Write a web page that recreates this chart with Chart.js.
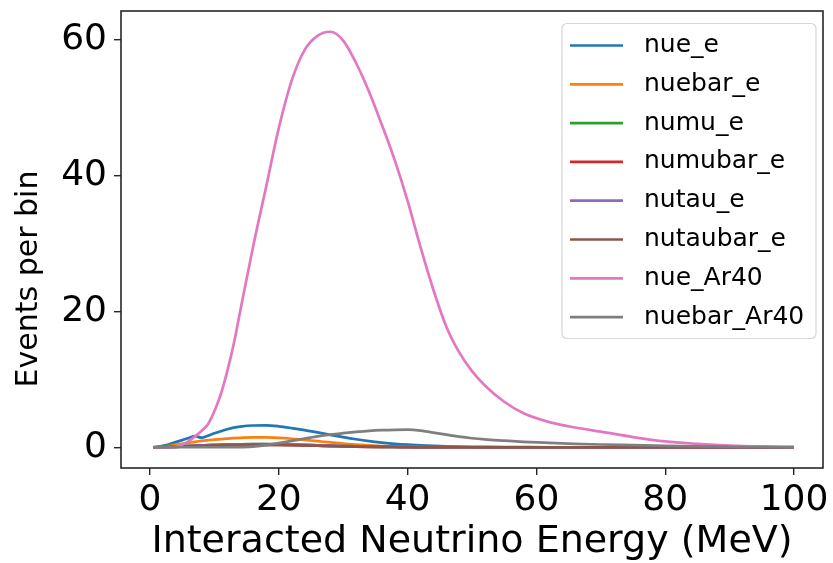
<!DOCTYPE html>
<html>
<head>
<meta charset="utf-8">
<script src="https://cdn.jsdelivr.net/npm/chart.js@4.4.0/dist/chart.umd.min.js"></script>
<style>
  body { margin: 0; background: #fff; }
  #wrap { width: 833px; height: 563px; }
</style>
</head>
<body>
<div id="wrap"><canvas id="myChart" width="833" height="563"></canvas></div>
<script>
// interacted neutrino energy (MeV)
var energies = [0.5, 1, 2, 3, 4, 5, 6, 7, 8, 9, 10, 11, 12, 13, 14,
  16, 18, 20, 22, 24, 26, 28, 30, 32, 34, 36, 38, 40, 42, 44, 46, 48, 50, 52,
  55, 58, 62, 66, 70, 75, 80, 85, 90, 95, 100];

var nue_e = [0, 0.05, 0.2, 0.45, 0.75, 1.05, 1.35, 1.65, 1.4, 1.7, 2.05, 2.35, 2.65, 2.88, 3.03,
  3.2, 3.22, 3.08, 2.82, 2.52, 2.18, 1.82, 1.48, 1.17, 0.9, 0.68, 0.5, 0.37, 0.27, 0.19, 0.13, 0.09, 0.06, 0.04,
  0.02, 0.01, 0, 0, 0, 0, 0, 0, 0, 0, 0];
var nuebar_e = [0, 0.02, 0.1, 0.2, 0.35, 0.5, 0.65, 0.8, 0.93, 1.03, 1.12, 1.2, 1.27, 1.33, 1.38,
  1.45, 1.45, 1.38, 1.25, 1.08, 0.9, 0.71, 0.53, 0.39, 0.27, 0.18, 0.12, 0.08, 0.05, 0.03, 0.02, 0.01, 0, 0,
  0, 0, 0, 0, 0, 0, 0, 0, 0, 0, 0];
var numu_e = [0, 0, 0.02, 0.05, 0.09, 0.14, 0.19, 0.24, 0.28, 0.32, 0.35, 0.38, 0.4, 0.42, 0.44,
  0.46, 0.46, 0.44, 0.4, 0.35, 0.29, 0.23, 0.18, 0.13, 0.09, 0.06, 0.04, 0.03, 0.02, 0.01, 0.01, 0, 0, 0,
  0, 0, 0, 0, 0, 0, 0, 0, 0, 0, 0];
var numubar_e = [0, 0, 0.01, 0.03, 0.06, 0.1, 0.14, 0.18, 0.21, 0.24, 0.27, 0.29, 0.31, 0.33, 0.34,
  0.36, 0.36, 0.34, 0.31, 0.27, 0.22, 0.17, 0.13, 0.09, 0.06, 0.04, 0.03, 0.02, 0.01, 0.01, 0, 0, 0, 0,
  0, 0, 0, 0, 0, 0, 0, 0, 0, 0, 0];
var nutau_e = [0, 0, 0.02, 0.05, 0.09, 0.14, 0.19, 0.24, 0.28, 0.32, 0.35, 0.38, 0.4, 0.42, 0.44,
  0.46, 0.46, 0.44, 0.4, 0.35, 0.29, 0.23, 0.18, 0.13, 0.09, 0.06, 0.04, 0.03, 0.02, 0.01, 0.01, 0, 0, 0,
  0, 0, 0, 0, 0, 0, 0, 0, 0, 0, 0];
var nutaubar_e = [0, 0, 0.01, 0.03, 0.06, 0.1, 0.14, 0.18, 0.21, 0.24, 0.27, 0.29, 0.31, 0.33, 0.34,
  0.36, 0.36, 0.34, 0.31, 0.27, 0.22, 0.17, 0.13, 0.09, 0.06, 0.04, 0.03, 0.02, 0.01, 0.01, 0, 0, 0, 0,
  0, 0, 0, 0, 0, 0, 0, 0, 0, 0, 0];
var nue_Ar40 = [0, 0, 0, 0, 0.05, 0.4, 0.9, 1.6, 2.4, 3.4, 5.3, 7.8, 11.2, 15.2, 20,
  29.5, 38.2, 47, 54, 58.5, 60.6, 61.2, 59.9, 56.6, 52.4, 47.5, 42.3, 36.3, 29.5, 23.2, 17.8, 14, 11.2, 9.1,
  6.7, 5, 3.7, 2.9, 2.3, 1.5, 0.85, 0.5, 0.25, 0.12, 0.05];
var nuebar_Ar40 = [0, 0, 0, 0, 0, 0, 0, 0, 0, 0, 0, 0, 0, 0.01, 0.02,
  0.08, 0.3, 0.6, 0.93, 1.28, 1.6, 1.86, 2.07, 2.26, 2.42, 2.52, 2.57, 2.58, 2.45, 2.15, 1.85, 1.55, 1.32, 1.15,
  0.97, 0.8, 0.64, 0.5, 0.4, 0.3, 0.2, 0.12, 0.07, 0.03, 0.01];

var seriesNames = ['nue_e', 'nuebar_e', 'numu_e', 'numubar_e', 'nutau_e', 'nutaubar_e', 'nue_Ar40', 'nuebar_Ar40'];
var seriesValues = [nue_e, nuebar_e, numu_e, numubar_e, nutau_e, nutaubar_e, nue_Ar40, nuebar_Ar40];
var seriesColors = ['#1f77b4', '#ff7f0e', '#2ca02c', '#d62728', '#9467bd', '#8c564b', '#e377c2', '#7f7f7f'];

var xTicks = [0, 20, 40, 60, 80, 100];
var yTicks = [0, 20, 40, 60];

Chart.defaults.font.family = 'DejaVu Sans';
Chart.defaults.color = '#000';

var datasets = seriesNames.map(function(name, i) {
  return {
    label: name,
    data: energies.map(function(e, j) { return {x: e, y: seriesValues[i][j]}; }),
    borderColor: seriesColors[i],
    backgroundColor: seriesColors[i],
    borderWidth: 2.7,
    pointRadius: 0,
    cubicInterpolationMode: 'monotone',
    fill: false,
    order: seriesNames.length - i   // later series on top, like matplotlib
  };
});

// axes frame, y label and legend drawn by hand (matplotlib look)
var frameAndLegend = {
  id: 'frameAndLegend',
  afterDatasetsDraw: function(chart) {
    var ctx = chart.ctx, a = chart.chartArea;
    ctx.save();
    ctx.strokeStyle = '#262626';
    ctx.lineWidth = 1.6;
    ctx.strokeRect(a.left, a.top, a.right - a.left, a.bottom - a.top);

    // y axis label
    ctx.save();
    ctx.translate(29, 279);
    ctx.rotate(-Math.PI / 2);
    ctx.font = '30px "DejaVu Sans"';
    ctx.fillStyle = '#000';
    ctx.textAlign = 'center';
    ctx.textBaseline = 'middle';
    ctx.fillText('Events per bin', 0, 0);
    ctx.restore();

    var bw = 254, bh = 315;
    var bx = a.right - 7 - bw, by = a.top + 12.5;
    ctx.beginPath();
    ctx.roundRect(bx, by, bw, bh, 5);
    ctx.fillStyle = 'rgba(255,255,255,0.8)';
    ctx.fill();
    ctx.strokeStyle = '#d6d6d6';
    ctx.lineWidth = 1.2;
    ctx.stroke();

    ctx.font = '25px "DejaVu Sans"';
    ctx.textBaseline = 'middle';
    ctx.textAlign = 'left';
    chart.data.datasets.forEach(function(ds, i) {
      var y = by + 22 + i * 38.8;
      ctx.beginPath();
      ctx.moveTo(bx + 8, y);
      ctx.lineTo(bx + 61, y);
      ctx.strokeStyle = ds.borderColor;
      ctx.lineWidth = 2.7;
      ctx.stroke();
      ctx.fillStyle = '#000';
      ctx.fillText(ds.label, bx + 82, y);
    });
    ctx.restore();
  }
};

var ctx = document.getElementById('myChart').getContext('2d');
var myChart = new Chart(ctx, {
  type: 'line',
  data: { datasets: datasets },
  plugins: [frameAndLegend],
  options: {
    responsive: false,
    animation: false,
    layout: { padding: { left: 0, right: 10, top: 11, bottom: 0 } },
    plugins: {
      legend: { display: false },
      tooltip: { enabled: false }
    },
    scales: {
      x: {
        type: 'linear',
        min: -4.5,
        max: 104.5,
        afterBuildTicks: function(scale) { scale.ticks = xTicks.map(function(v) { return {value: v}; }); },
        afterFit: function(scale) { scale.height = 95; scale.paddingLeft = 0; scale.paddingRight = 0; },
        grid: { display: true, drawOnChartArea: false, drawTicks: true, tickLength: 7, color: '#262626', lineWidth: 1.4 },
        border: { display: false },
        ticks: { font: { size: 36 }, padding: 4, maxRotation: 0 },
        title: { display: true, text: 'Interacted Neutrino Energy (MeV)', font: { size: 38, lineHeight: 1.0 }, padding: { top: 0, bottom: 2 } }
      },
      y: {
        type: 'linear',
        min: -3.06,
        max: 64.26,
        afterBuildTicks: function(scale) { scale.ticks = yTicks.map(function(v) { return {value: v}; }); },
        afterFit: function(scale) { scale.width = 121; scale.paddingTop = 0; scale.paddingBottom = 0; },
        grid: { display: true, drawOnChartArea: false, drawTicks: true, tickLength: 7, color: '#262626', lineWidth: 1.4 },
        border: { display: false },
        ticks: { font: { size: 36 }, padding: 7 },
        title: { display: false }
      }
    }
  }
});
</script>
</body>
</html>
